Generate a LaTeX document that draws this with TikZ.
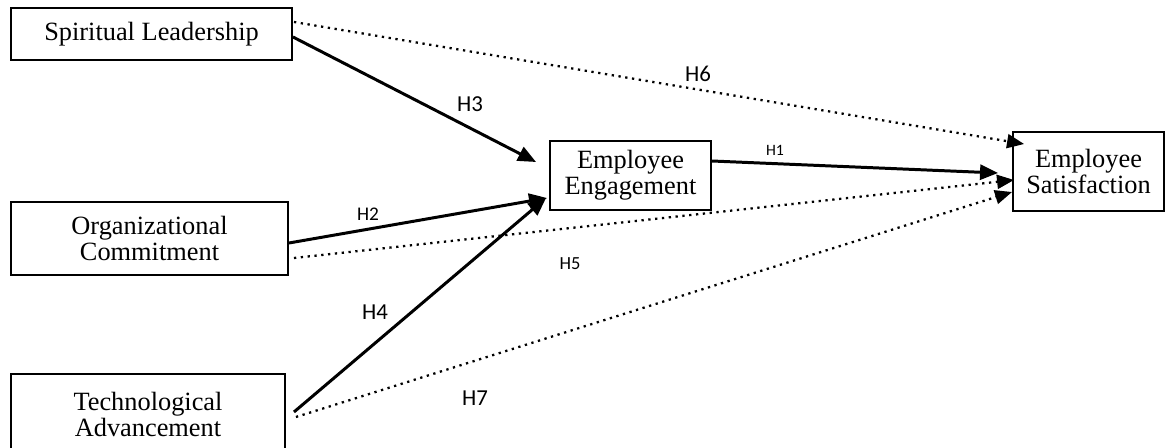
\documentclass[tikz,border=0pt]{standalone}
\usepackage{fontspec}
\setmainfont{Liberation Serif}
\newfontfamily\hypfont{Carlito}
\usepackage{tikz}
\usetikzlibrary{arrows.meta,positioning}
\tikzstyle{construct} = [rectangle, draw=black, line width=1.1pt, inner sep=0pt, align=center, font=\fontsize{15}{14.8}\selectfont]
\tikzstyle{arrow} = [line width=1.7pt, -{Triangle[length=0.36cm,width=0.3cm]}]
\tikzstyle{dotarrow} = [line width=1.3pt, dash pattern=on 1.3pt off 2.6pt, -{Triangle[length=0.34cm,width=0.28cm]}]
\tikzstyle{hyp} = [inner sep=0pt, font=\hypfont\fontsize{13}{13}\selectfont]
\tikzstyle{hypsmall} = [inner sep=0pt, font=\hypfont\fontsize{10.5}{10.5}\selectfont]

\begin{document}
\begin{tikzpicture}
\useasboundingbox (0,0) rectangle (23.32,-8.96);
% Constructs
\node (sl) [construct, minimum width=5.62cm, minimum height=1.04cm] at (3.03,-0.68) {Spiritual Leadership};
\node (oc) [construct, minimum width=5.54cm, minimum height=1.46cm] at (2.99,-4.77) {Organizational\\Commitment};
\node (ta) [construct, minimum width=5.48cm, minimum height=1.6cm] at (2.96,-8.28) {Technological\\Advancement};
\node (ee) [construct, minimum width=3.22cm, minimum height=1.38cm] at (12.61,-3.51) {Employee\\Engagement};
\node (es) [construct, minimum width=3.02cm, minimum height=1.58cm] at (21.77,-3.43) {Employee\\Satisfaction};

% Direct paths
\draw[arrow] ([yshift=-0.06cm]sl.east) -- ([xshift=-0.26cm,yshift=0.27cm]ee.west);
\draw[arrow] ([yshift=-0.09cm]oc.east) -- ([xshift=-0.04cm,yshift=-0.45cm]ee.west);
\draw[arrow] ([xshift=0.16cm,yshift=0.04cm]ta.east) -- ([xshift=-0.06cm,yshift=-0.45cm]ee.west);
\draw[arrow] ([yshift=0.29cm]ee.east) -- ([xshift=-0.28cm,yshift=-0.03cm]es.west);

% Indirect paths
\draw[dotarrow] ([xshift=0.02cm,yshift=0.24cm]sl.east) -- ([xshift=0.24cm,yshift=0.55cm]es.west);
\draw[dotarrow] ([xshift=0.1cm,yshift=-0.39cm]oc.east) -- ([xshift=0.04cm,yshift=-0.17cm]es.west);
\draw[dotarrow] ([xshift=0.2cm,yshift=-0.06cm]ta.east) -- ([yshift=-0.41cm]es.west);

% Hypotheses
\node (h1) [inner sep=0pt, font=\hypfont\fontsize{9}{9}\selectfont] at (15.5,-3.0) {H1};
\node (h2) [inner sep=0pt, font=\hypfont\fontsize{11}{11}\selectfont] at (7.36,-4.28) {H2};
\node (h3) [hyp] at (9.4,-2.08) {H3};
\node (h4) [hyp] at (7.5,-6.24) {H4};
\node (h5) [hypsmall] at (11.4,-5.28) {H5};
\node (h6) [hyp] at (13.96,-1.48) {H6};
\node (h7) [hyp] at (9.5,-7.96) {H7};
\end{tikzpicture}
\end{document}
